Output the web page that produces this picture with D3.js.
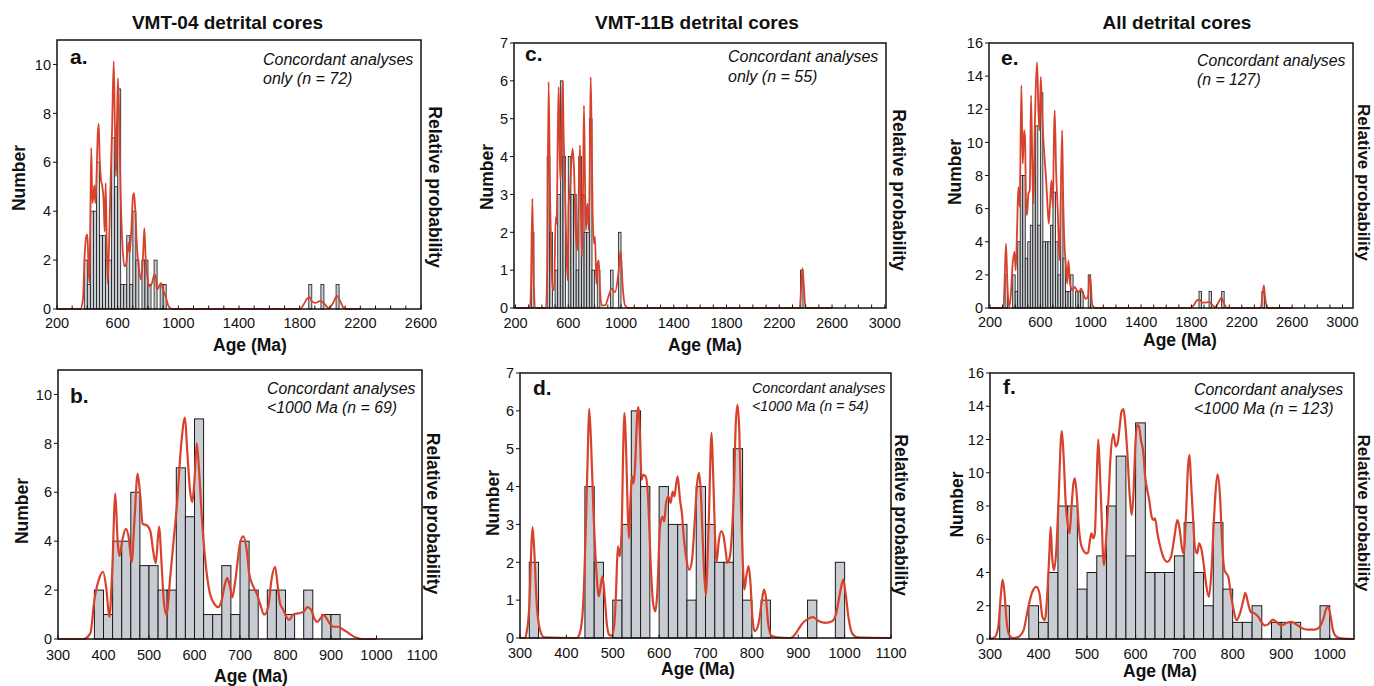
<!DOCTYPE html>
<html>
<head>
<meta charset="utf-8">
<script src="https://cdn.jsdelivr.net/npm/d3@7"></script>
<style>
  html, body { margin: 0; padding: 0; background: #fff; }
  svg { display: block; font-family: "Liberation Sans", Arial, sans-serif; }
</style>
</head>
<body>
<svg id="chart" width="1374" height="686"></svg>
<script>
// ---------------- DATA ----------------
const binWidth = 20; // Ma

// Panel titles
const columnTitles = ["VMT-04 detrital cores", "VMT-11B detrital cores", "All detrital cores"];

// Histogram bins (bin start age, Ma) and counts
const binsA   = [380,400,420,440,460,480,500,520,540,560,580,600,620,640,660,680,700,720,760,780,800,840,880,900,1860,1940,2040];
const countsA = [2,1,4,4,6,3,3,2,2,7,5,9,1,1,3,1,4,2,2,2,1,2,1,1,1,1,1];

const binsB   = [380,400,420,440,460,480,500,520,540,560,580,600,620,640,660,680,700,720,760,780,800,840,880,900];
const countsB = [2,1,4,4,6,3,3,2,2,7,5,9,1,1,3,1,4,2,2,2,1,2,1,1];

const binsC   = [320,440,460,500,520,540,560,600,620,640,660,680,700,720,740,760,780,820,920,980,2360];
const countsC = [2,4,2,1,3,6,4,4,3,3,1,4,3,2,2,5,1,1,1,2,1];

const binsD   = [320,440,460,500,520,540,560,600,620,640,660,680,700,720,740,760,780,820,920,980];
const countsD = [2,4,2,1,3,6,4,4,3,3,1,4,3,2,2,5,1,1,1,2];

const binsE   = [320,380,400,420,440,460,480,500,520,540,560,580,600,620,640,660,680,700,720,740,760,780,800,820,840,880,900,920,980,1860,1940,2040,2360];
const countsE = [2,2,1,4,8,8,3,4,5,8,11,5,13,4,4,4,5,7,4,2,7,3,1,1,2,1,1,1,2,1,1,1,1];

const binsF   = [320,380,400,420,440,460,480,500,520,540,560,580,600,620,640,660,680,700,720,740,760,780,800,820,840,880,900,920,980];
const countsF = [2,2,1,4,8,8,3,4,5,8,11,5,13,4,4,4,5,7,4,2,7,3,1,1,2,1,1,1,2];

// Relative probability curves [age Ma, height in "Number" units]
const curveA = [[200,0],[354,0],[371,0.38],[382,2.15],[393,2.97],[400,3.04],[407,1.88],[413,1.06],[420,3.79],[426,6.58],[433,4.33],[440,4.6],[446,5.05],[453,4.33],[462,5.7],[468,7.06],[475,7.57],[481,6.24],[490,5.29],[499,5.01],[508,4.33],[514,3.17],[521,5.15],[527,2.97],[534,1.06],[543,2.56],[552,4.88],[563,7.33],[574,10.12],[582,7.33],[589,5.42],[596,7.87],[602,9.44],[611,7.33],[620,4.6],[631,2.7],[644,1.74],[657,1.88],[670,2.7],[679,2.29],[690,3.24],[701,4.6],[708,4.74],[716,4.06],[727,2.56],[741,1.61],[754,1.2],[767,2.15],[776,3.31],[785,2.02],[798,1.2],[811,0.93],[826,1.06],[842,1.4],[851,1.34],[859,0.79],[873,0.93],[886,1.06],[899,0.79],[916,0.52],[936,0.11],[958,0],[1804,0],[1826,0.18],[1848,0.41],[1866,0.48],[1881,0.31],[1903,0.25],[1936,0.33],[1958,0.25],[1991,0.03],[2020,0.25],[2046,0.54],[2068,0.31],[2090,0.04],[2108,0],[2200,0]];

const curveB = [[300,0],[356,0],[371,0.23],[380,1.6],[391,2.5],[399,2.75],[406,2.1],[413,0.9],[419,2.7],[426,5.95],[431,4.0],[435,3.4],[441,4.0],[449,4.5],[455,4.2],[462,3.15],[468,4.85],[475,6.75],[481,5.8],[486,4.7],[495,4.65],[503,4.4],[510,3.5],[515,3.1],[522,4.6],[528,2.95],[533,1.45],[539,0.98],[546,2.4],[554,4.0],[561,5.4],[571,8.0],[579,9.05],[584,7.7],[590,6.1],[595,5.6],[600,6.5],[605,8.0],[610,6.9],[616,5.0],[623,3.35],[634,1.85],[645,1.4],[652,1.3],[660,1.6],[667,2.25],[672,2.5],[678,2.15],[683,1.7],[689,2.3],[700,3.9],[707,4.2],[715,3.6],[720,2.7],[729,2.15],[737,1.85],[744,1.45],[753,1.0],[762,1.3],[769,2.4],[777,2.95],[783,2.15],[788,1.45],[795,1.2],[802,0.9],[808,0.78],[817,1.0],[828,1.05],[839,1.1],[848,1.3],[856,1.2],[863,0.85],[870,0.7],[877,0.85],[884,0.98],[890,0.85],[897,0.64],[905,0.5],[916,0.5],[923,0.43],[934,0.3],[945,0.16],[956,0.05],[967,0],[1000,0]];

const curveC = [[200,0],[310,0],[318,0.64],[328,2.89],[338,0.64],[353,0],[431,0],[441,1.17],[451,5.97],[462,2.93],[472,1.25],[482,0.47],[492,0.47],[505,2.4],[512,2.22],[520,4.43],[527,5.84],[537,3.81],[542,3.37],[550,4.69],[558,6.01],[565,4.52],[573,3.64],[580,2.4],[588,1.35],[596,0.73],[603,2.76],[613,3.11],[623,3.81],[633,4.21],[644,3.64],[656,2.05],[669,1.52],[679,3.02],[689,4.3],[697,2.4],[704,1.35],[712,3.11],[719,5.35],[727,3.37],[734,2.05],[745,2.76],[755,2.05],[762,3.37],[770,6.1],[777,4.69],[785,2.49],[795,1.7],[803,1.88],[813,0.64],[823,1.17],[831,1.26],[841,0.47],[853,0.07],[879,0.07],[904,0.29],[929,0.51],[954,0.42],[980,0.91],[997,1.51],[1013,0.56],[1030,0.07],[1055,0],[2355,0],[2367,0.6],[2376,1.05],[2386,0.6],[2398,0],[2600,0]];

const curveD = [[300,0],[311,0],[314,0.13],[320,0.84],[324,2.25],[327,2.93],[331,2.25],[336,0.92],[343,0.22],[352,0.02],[422,0],[429,0.13],[436,0.84],[442,2.95],[446,4.8],[449,6.05],[453,5.24],[458,3.48],[464,1.9],[470,1.1],[476,1.54],[478,1.63],[482,1.19],[487,0.4],[492,0.09],[497,0.06],[503,0.31],[507,1.19],[511,2.42],[515,2.16],[519,2.77],[523,5.24],[525,5.94],[529,4.89],[532,3.48],[535,2.64],[538,3.57],[542,4.27],[545,4.08],[548,4.49],[553,5.94],[555,6.1],[559,5.24],[562,4.18],[566,4.31],[571,4.27],[576,3.74],[582,1.9],[587,0.92],[592,0.7],[596,1.19],[602,2.95],[607,3.21],[611,3.08],[615,3.57],[620,3.74],[625,3.57],[629,3.87],[633,3.74],[636,4.0],[640,4.27],[645,3.65],[649,3.3],[653,2.69],[659,2.07],[665,1.8],[671,2.07],[677,3.13],[682,4.09],[686,4.36],[690,3.83],[694,2.6],[698,1.54],[701,1.14],[704,1.9],[708,3.48],[711,4.97],[713,5.42],[716,4.53],[719,3.3],[722,2.25],[724,2.02],[729,2.6],[734,2.82],[739,2.69],[744,2.25],[747,1.98],[752,2.11],[757,2.77],[762,4.18],[765,5.59],[769,6.16],[773,5.42],[776,3.74],[780,2.16],[784,1.28],[788,1.63],[793,1.9],[797,1.45],[801,0.57],[806,0.18],[813,0.31],[821,0.92],[826,1.28],[830,1.1],[835,0.4],[842,0.06],[853,0.02],[882,0],[889,0.04],[900,0.22],[910,0.4],[920,0.5],[932,0.55],[945,0.44],[959,0.4],[973,0.44],[982,0.66],[990,1.19],[997,1.54],[1002,1.19],[1008,0.57],[1016,0.13],[1027,0.02],[1100,0]];

const curveE = [[200,0],[307,0],[317,1.87],[327,3.88],[338,1.47],[351,0.06],[364,0.66],[380,2.68],[394,3.38],[404,2.27],[415,4.69],[425,7.3],[436,6.1],[449,13.44],[460,8.71],[471,10.73],[478,10.32],[486,6.5],[494,5.6],[505,6.9],[516,7.1],[526,12.84],[537,8.31],[545,6.3],[555,10.73],[563,13.14],[574,14.85],[585,11.73],[593,10.73],[603,13.95],[614,11.73],[624,10.12],[635,8.92],[646,7.71],[656,6.3],[667,5.09],[677,6.3],[688,7.71],[699,6.1],[709,10.73],[714,11.93],[725,8.31],[738,5.9],[752,2.88],[762,6.7],[773,10.73],[781,6.7],[791,3.88],[802,2.68],[813,1.47],[823,2.88],[836,1.47],[855,1.07],[871,1.27],[890,1.07],[908,0.97],[924,1.17],[940,0.87],[961,0.56],[977,0.66],[993,1.97],[1001,1.47],[1011,0.26],[1025,0.05],[1049,0],[1791,0],[1818,0.16],[1844,0.46],[1863,0.5],[1889,0.32],[1924,0.34],[1942,0.36],[1969,0.16],[1990,0.06],[2016,0.36],[2038,0.62],[2059,0.26],[2083,0],[2348,0],[2367,0.87],[2375,1.37],[2382,0.87],[2401,0],[2600,0]];

const curveF = [[300,0],[310,0.12],[317,0.72],[322,2.53],[326,3.58],[330,2.73],[334,1.13],[340,0.22],[348,0.06],[358,0.12],[369,0.52],[379,1.93],[387,2.83],[396,3.14],[402,2.73],[408,1.33],[413,1.13],[418,2.73],[422,4.94],[425,6.75],[428,4.94],[432,4.14],[437,5.55],[442,8.96],[446,12.0],[448,12.5],[452,10.8],[456,8.16],[460,6.95],[464,6.35],[468,7.96],[472,9.37],[475,9.67],[479,8.56],[483,6.75],[487,5.75],[492,5.35],[499,5.15],[502,5.19],[506,5.95],[509,6.35],[513,6.05],[516,6.35],[520,9.77],[523,12.0],[526,10.4],[530,7.36],[533,4.94],[535,4.44],[539,5.95],[544,8.36],[548,10.77],[554,12.34],[559,11.58],[563,11.78],[568,12.98],[571,13.69],[575,13.83],[578,13.19],[583,11.18],[588,8.56],[592,7.46],[596,8.96],[599,11.38],[603,12.88],[607,12.78],[611,11.98],[616,11.18],[619,9.97],[624,8.96],[628,8.36],[633,7.36],[637,7.16],[640,7.26],[645,6.35],[650,5.65],[657,4.94],[665,4.64],[673,4.94],[680,6.15],[686,7.16],[691,6.55],[695,5.55],[699,5.15],[704,7.56],[708,10.37],[711,11.08],[714,9.57],[719,6.95],[722,5.55],[727,5.15],[731,5.75],[736,5.35],[741,4.34],[746,3.14],[751,2.53],[756,3.94],[761,6.95],[765,8.96],[769,9.91],[774,8.56],[778,5.95],[783,4.14],[787,3.94],[791,3.74],[796,2.73],[802,1.73],[808,1.13],[815,1.53],[822,2.33],[826,2.77],[832,2.13],[837,1.63],[846,1.53],[853,1.33],[859,1.03],[866,0.82],[873,0.88],[883,1.17],[894,0.92],[901,0.82],[911,0.96],[921,1.03],[931,0.88],[941,0.68],[955,0.56],[969,0.56],[979,0.72],[986,1.13],[993,1.83],[997,1.93],[1002,1.33],[1006,0.62],[1013,0.16],[1024,0.04],[1050,0]];

// Annotations
const panelLetters = ["a.", "b.", "c.", "d.", "e.", "f."];
const notesA = ["Concordant analyses", "only (n = 72)"];
const notesB = ["Concordant analyses", "<1000 Ma (n = 69)"];
const notesC = ["Concordant analyses", "only (n = 55)"];
const notesD = ["Concordant analyses", "<1000 Ma (n = 54)"];
const notesE = ["Concordant analyses", "(n = 127)"];
const notesF = ["Concordant analyses", "<1000 Ma (n = 123)"];

// Axis tick values
const yTicksA = [0,2,4,6,8,10];
const yTicksC = [0,1,2,3,4,5,6,7];
const yTicksE = [0,2,4,6,8,10,12,14,16];
const xLabelsWide  = [200,600,1000,1400,1800,2200,2600];
const xLabelsWide3 = [200,600,1000,1400,1800,2200,2600,3000];
const xLabelsNarrow = [300,400,500,600,700,800,900,1000,1100];
const xLabelsNarrowF = [300,400,500,600,700,800,900,1000];

// ---------------- LAYOUT ----------------
const panels = [
  { letter: panelLetters[0], bins: binsA, counts: countsA, curve: curveA, notes: notesA,
    xd: [200,2600], xr: [57,421], fx: [57,421], yMax: 11, yr: [309,40], yTicks: yTicksA,
    xLabels: xLabelsWide, minorStep: 100, minorMax: 2600, top: true,
    letterPos: [70,64], notePos: [263,65,84], noteSize: 16, labelBase: 328,
    numPos: [18.5,178], relPos: [435,187], relSize: 17.5, agePos: [250,351] },
  { letter: panelLetters[1], bins: binsB, counts: countsB, curve: curveB, notes: notesB,
    xd: [300,1100], xr: [58,422], fx: [58,422], yMax: 11, yr: [639,370], yTicks: yTicksA,
    xLabels: xLabelsNarrow, minorStep: 100, minorMax: 1100, top: false,
    letterPos: [70,403], notePos: [267,394,413], noteSize: 15.8, labelBase: 660,
    numPos: [22,511], relPos: [433.5,513.5], relSize: 17.5, agePos: [251,682] },
  { letter: panelLetters[2], bins: binsC, counts: countsC, curve: curveC, notes: notesC,
    xd: [200,3000], xr: [515.5,884.8], fx: [514,886], yMax: 7, yr: [308,43], yTicks: yTicksC,
    xLabels: xLabelsWide3, minorStep: 100, minorMax: 3000, top: true,
    letterPos: [525,61], notePos: [728,62,82], noteSize: 16, labelBase: 328,
    numPos: [487,177], relPos: [899,190], relSize: 17.5, agePos: [705,351] },
  { letter: panelLetters[3], bins: binsD, counts: countsD, curve: curveD, notes: notesD,
    xd: [300,1100], xr: [520,891], fx: [520,891], yMax: 7, yr: [638,373], yTicks: yTicksC,
    xLabels: xLabelsNarrow, minorStep: 100, minorMax: 1100, top: false,
    letterPos: [533,395], notePos: [752,393,411], noteSize: 14.2, labelBase: 658,
    numPos: [492.5,503], relPos: [901,515], relSize: 17.5, agePos: [698,675] },
  { letter: panelLetters[4], bins: binsE, counts: countsE, curve: curveE, notes: notesE,
    xd: [200,3000], xr: [990,1342.5], fx: [989,1353], yMax: 16, yr: [308,43], yTicks: yTicksE,
    xLabels: xLabelsWide3, minorStep: 100, minorMax: 3000, top: true,
    letterPos: [1001,65], notePos: [1197,66,85], noteSize: 15.8, labelBase: 327,
    numPos: [955,172], relPos: [1363.5,182.5], relSize: 17, agePos: [1180,346] },
  { letter: panelLetters[5], bins: binsF, counts: countsF, curve: curveF, notes: notesF,
    xd: [300,1050], xr: [990,1354], fx: [990,1354], yMax: 16, yr: [639,373], yTicks: yTicksE,
    xLabels: xLabelsNarrowF, minorStep: 100, minorMax: 1000, top: false,
    letterPos: [1003,394], notePos: [1194,395,414], noteSize: 15.9, labelBase: 659,
    numPos: [957,504.5], relPos: [1363.5,513], relSize: 17, agePos: [1160,677] }
];

const titlePos = [[227.5,29],[697,29],[1177,29]];

const RED = "#d8412b";
const BAR_FILL = "#c9ccd3";

const svg = d3.select("#chart");

// Column titles
columnTitles.forEach((t,i) => {
  svg.append("text").attr("x", titlePos[i][0]).attr("y", titlePos[i][1])
    .attr("text-anchor","middle").attr("font-size", 19).attr("font-weight","bold")
    .attr("fill","#111").text(t);
});

panels.forEach(p => {
  const x = d3.scaleLinear().domain(p.xd).range(p.xr);
  const y = d3.scaleLinear().domain([0, p.yMax]).range(p.yr);
  const g = svg.append("g");
  const y0 = p.yr[0], y1 = p.yr[1];
  const x0 = p.fx[0], x1 = p.fx[1];

  // bars
  const barData = p.bins.map((b,i) => ({start: b, count: p.counts[i]}));
  g.selectAll("rect.bar").data(barData).enter().append("rect")
    .attr("class","bar")
    .attr("x", d => x(d.start))
    .attr("width", d => x(d.start + binWidth) - x(d.start))
    .attr("y", d => y(d.count))
    .attr("height", d => y(0) - y(d.count))
    .attr("fill", BAR_FILL)
    .attr("stroke", "#1a1a1a")
    .attr("stroke-width", p.top ? 0.8 : 1);

  // probability curve
  const line = d3.line().x(d => x(d[0])).y(d => y(d[1])).curve(d3.curveMonotoneX);
  g.append("path").datum(p.curve)
    .attr("d", line)
    .attr("fill","none")
    .attr("stroke", RED)
    .attr("stroke-width", p.top ? 1.8 : 2.2)
    .attr("stroke-linejoin","round");

  // frame
  g.append("rect").attr("x", x0).attr("y", y1).attr("width", x1 - x0).attr("height", y0 - y1)
    .attr("fill","none").attr("stroke","#111").attr("stroke-width",1.5);

  // y ticks
  p.yTicks.forEach(v => {
    g.append("line").attr("x1", x0 - 4).attr("x2", x0).attr("y1", y(v)).attr("y2", y(v))
      .attr("stroke","#111").attr("stroke-width",1);
    g.append("text").attr("x", x0 - 6).attr("y", y(v)).attr("dy","0.36em")
      .attr("text-anchor","end").attr("font-size",14.5).attr("fill","#111").text(v);
  });

  // x minor ticks (inside)
  const minor = d3.range(p.xd[0], p.minorMax + 1, p.minorStep);
  minor.forEach(v => {
    g.append("line").attr("x1", x(v)).attr("x2", x(v)).attr("y1", y0).attr("y2", y0 - 3.5)
      .attr("stroke","#111").attr("stroke-width",1);
  });
  p.xLabels.forEach(v => {
    g.append("text").attr("x", x(v)).attr("y", p.labelBase)
      .attr("text-anchor","middle").attr("font-size",14.5).attr("fill","#111").text(v);
  });

  // axis titles
  g.append("text").attr("transform", `translate(${p.numPos[0]},${p.numPos[1]}) rotate(-90)`)
    .attr("text-anchor","middle").attr("dy","0.35em").attr("font-size",17.5)
    .attr("font-weight","bold").attr("fill","#111").text("Number");
  g.append("text").attr("transform", `translate(${p.relPos[0]},${p.relPos[1]}) rotate(90)`)
    .attr("text-anchor","middle").attr("dy","0.35em").attr("font-size",p.relSize)
    .attr("font-weight","bold").attr("fill","#111").text("Relative probability");
  g.append("text").attr("x", p.agePos[0]).attr("y", p.agePos[1])
    .attr("text-anchor","middle").attr("font-size",17.5)
    .attr("font-weight","bold").attr("fill","#111").text("Age (Ma)");

  // panel letter
  g.append("text").attr("x", p.letterPos[0]).attr("y", p.letterPos[1])
    .attr("font-size",21).attr("font-weight","bold").attr("fill","#111").text(p.letter);

  // notes
  p.notes.forEach((t,i) => {
    g.append("text").attr("x", p.notePos[0]).attr("y", p.notePos[1+i])
      .attr("font-size", p.noteSize).attr("font-style","italic").attr("fill","#111").text(t);
  });
});
</script>
</body>
</html>
